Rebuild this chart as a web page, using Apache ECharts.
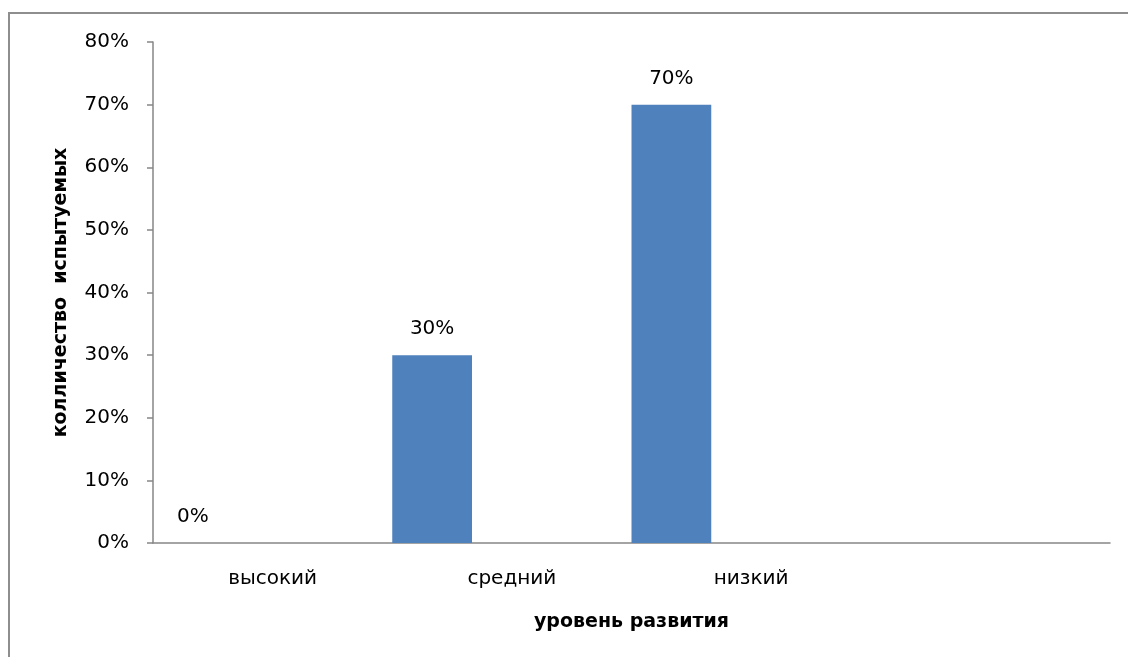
<!DOCTYPE html>
<html>
<head>
<meta charset="utf-8">
<style>
  html, body { margin: 0; padding: 0; background: #fff; }
  #chart { width: 1128px; height: 657px; }
</style>
<script src="https://cdn.jsdelivr.net/npm/echarts@6/dist/echarts.min.js"></script>
</head>
<body>
<div id="chart"></div>
<script>
// Distribution of subjects by development level, %
const categories = ['высокий', 'средний', 'низкий', ''];
const values = [0, 30, 70];
const yTicks = { min: 0, max: 80, step: 10 };

const xTitle = 'уровень развития';
const yTitle = 'колличество  испытуемых';

// Each category is split into three slots; the bar sits in the first slot,
// so it is drawn against a hidden axis with three slots per category.
const SLOTS = 3;
const slotNames = [];
const slotData = [];
categories.forEach((c, i) => {
  for (let s = 0; s < SLOTS; s++) {
    slotNames.push(c + '#' + s);
    slotData.push(s === 0 && i < values.length ? values[i] : null);
  }
});

const FONT = '"DejaVu Sans", "Noto Sans", sans-serif';
const AXIS_COLOR = '#868686';
const TEXT_COLOR = '#000';
const FS = 20;
const TITLE_FS = 19;

const chart = echarts.init(document.getElementById('chart'), null, { renderer: 'canvas' });
chart.setOption({
  animation: false,
  backgroundColor: '#fff',
  textStyle: { fontFamily: FONT },
  graphic: [{
    type: 'rect',
    shape: { x: 9, y: 13, width: 1300, height: 800 },
    style: { fill: 'none', stroke: '#8e8e8e', lineWidth: 2 },
    silent: true
  }],
  grid: { left: 153, right: 18, top: 42, bottom: 114, containLabel: false },
  xAxis: [{
    type: 'category',
    data: categories,
    boundaryGap: true,
    axisLine: { lineStyle: { color: AXIS_COLOR, width: 1.5 } },
    axisTick: { show: false },
    axisLabel: { color: TEXT_COLOR, fontSize: FS, fontFamily: FONT, margin: 26 },
    name: xTitle,
    nameLocation: 'middle',
    nameGap: 70,
    nameTextStyle: { color: TEXT_COLOR, fontSize: TITLE_FS, fontWeight: 'bold', fontFamily: FONT }
  }, {
    type: 'category',
    data: slotNames,
    boundaryGap: true,
    show: false
  }],
  yAxis: {
    type: 'value',
    min: yTicks.min,
    max: yTicks.max,
    interval: yTicks.step,
    axisLine: { show: true, lineStyle: { color: AXIS_COLOR, width: 1.5 } },
    axisTick: { show: true, length: 6, lineStyle: { color: AXIS_COLOR, width: 1.5 } },
    splitLine: { show: false },
    axisLabel: { color: TEXT_COLOR, fontSize: FS, fontFamily: FONT, margin: 24,
                 formatter: '{value}%' },
    name: yTitle,
    nameLocation: 'middle',
    nameGap: 82,
    nameRotate: 90,
    nameTextStyle: { color: TEXT_COLOR, fontSize: TITLE_FS, fontWeight: 'bold', fontFamily: FONT }
  },
  series: [{
    type: 'bar',
    xAxisIndex: 1,
    data: slotData,
    barCategoryGap: 0,
    itemStyle: { color: '#4F81BD' },
    label: {
      show: true,
      position: 'top',
      distance: 16,
      color: TEXT_COLOR,
      fontSize: FS,
      fontFamily: FONT,
      formatter: p => (p.value === null || p.value === undefined ? '' : p.value + '%')
    }
  }]
});
</script>
</body>
</html>
